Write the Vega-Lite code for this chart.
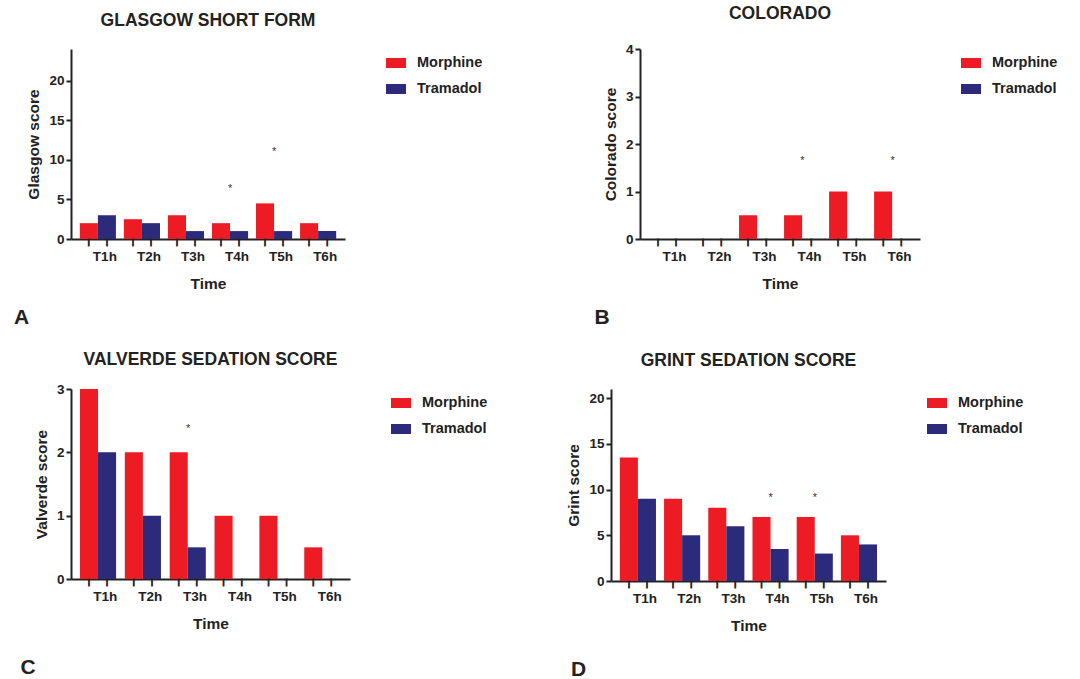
{
  "$schema": "https://vega.github.io/schema/vega-lite/v6.json",
  "padding": {"left": 13, "top": 4, "right": 5, "bottom": 0},
  "background": "white",
  "datasets": {
    "glasgow": [
      {"time": "T1h", "drug": "Morphine", "score": 2}, {"time": "T1h", "drug": "Tramadol", "score": 3},
      {"time": "T2h", "drug": "Morphine", "score": 2.5}, {"time": "T2h", "drug": "Tramadol", "score": 2},
      {"time": "T3h", "drug": "Morphine", "score": 3}, {"time": "T3h", "drug": "Tramadol", "score": 1},
      {"time": "T4h", "drug": "Morphine", "score": 2}, {"time": "T4h", "drug": "Tramadol", "score": 1},
      {"time": "T5h", "drug": "Morphine", "score": 4.5}, {"time": "T5h", "drug": "Tramadol", "score": 1},
      {"time": "T6h", "drug": "Morphine", "score": 2}, {"time": "T6h", "drug": "Tramadol", "score": 1}
    ],
    "glasgow_sig": [{"time": "T4h", "y": 6.6}, {"time": "T5h", "y": 11.2}],
    "colorado": [
      {"time": "T1h", "drug": "Morphine", "score": 0}, {"time": "T1h", "drug": "Tramadol", "score": 0},
      {"time": "T2h", "drug": "Morphine", "score": 0}, {"time": "T2h", "drug": "Tramadol", "score": 0},
      {"time": "T3h", "drug": "Morphine", "score": 0.5}, {"time": "T3h", "drug": "Tramadol", "score": 0},
      {"time": "T4h", "drug": "Morphine", "score": 0.5}, {"time": "T4h", "drug": "Tramadol", "score": 0},
      {"time": "T5h", "drug": "Morphine", "score": 1}, {"time": "T5h", "drug": "Tramadol", "score": 0},
      {"time": "T6h", "drug": "Morphine", "score": 1}, {"time": "T6h", "drug": "Tramadol", "score": 0}
    ],
    "colorado_sig": [{"time": "T4h", "y": 1.69}, {"time": "T6h", "y": 1.69}],
    "valverde": [
      {"time": "T1h", "drug": "Morphine", "score": 3}, {"time": "T1h", "drug": "Tramadol", "score": 2},
      {"time": "T2h", "drug": "Morphine", "score": 2}, {"time": "T2h", "drug": "Tramadol", "score": 1},
      {"time": "T3h", "drug": "Morphine", "score": 2}, {"time": "T3h", "drug": "Tramadol", "score": 0.5},
      {"time": "T4h", "drug": "Morphine", "score": 1}, {"time": "T4h", "drug": "Tramadol", "score": 0},
      {"time": "T5h", "drug": "Morphine", "score": 1}, {"time": "T5h", "drug": "Tramadol", "score": 0},
      {"time": "T6h", "drug": "Morphine", "score": 0.5}, {"time": "T6h", "drug": "Tramadol", "score": 0}
    ],
    "valverde_sig": [{"time": "T3h", "y": 2.4}],
    "grint": [
      {"time": "T1h", "drug": "Morphine", "score": 13.5}, {"time": "T1h", "drug": "Tramadol", "score": 9},
      {"time": "T2h", "drug": "Morphine", "score": 9}, {"time": "T2h", "drug": "Tramadol", "score": 5},
      {"time": "T3h", "drug": "Morphine", "score": 8}, {"time": "T3h", "drug": "Tramadol", "score": 6},
      {"time": "T4h", "drug": "Morphine", "score": 7}, {"time": "T4h", "drug": "Tramadol", "score": 3.5},
      {"time": "T5h", "drug": "Morphine", "score": 7}, {"time": "T5h", "drug": "Tramadol", "score": 3},
      {"time": "T6h", "drug": "Morphine", "score": 5}, {"time": "T6h", "drug": "Tramadol", "score": 4}
    ],
    "grint_sig": [{"time": "T4h", "y": 9.3}, {"time": "T5h", "y": 9.3}]
  },
  "resolve": {"scale": {"color": "independent"}, "legend": {"color": "independent"}},
  "spacing": 22,
  "vconcat": [
    {
      "hconcat": [
        {
          "title": {"text": "A", "orient": "bottom", "anchor": "start", "frame": "bounds", "fontSize": 21, "dx": -13, "offset": 15},
          "resolve": {"scale": {"color": "independent"}, "legend": {"color": "independent"}},
          "vconcat": [
            {
              "title": {"text": "GLASGOW SHORT FORM"},
              "width": 274, "height": 190,
              "layer": [
                {
                  "data": {"name": "glasgow"},
                  "mark": {"type": "bar"},
                  "encoding": {
                    "x": {"field": "time", "type": "nominal", "title": "Time", "scale": {"paddingInner": 0.18, "paddingOuter": 0.2}},
                    "xOffset": {"field": "drug", "type": "nominal", "scale": {"paddingInner": 0, "paddingOuter": 0}},
                    "y": {"field": "score", "type": "quantitative", "title": "Glasgow score", "scale": {"domain": [0, 24], "nice": false}, "axis": {"values": [0, 5, 10, 15, 20], "format": "d"}},
                    "color": {"field": "drug", "type": "nominal", "scale": {"domain": ["Morphine", "Tramadol"], "range": ["#ED1C24", "#2B2A7B"]}, "legend": {"title": null}}
                  }
                },
                {
                  "data": {"name": "glasgow"},
                  "mark": {"type": "text", "text": "|", "fontSize": 7, "fontWeight": "bold", "baseline": "top", "dy": -1, "color": "#222222", "stroke": "#222222", "strokeWidth": 0.8},
                  "encoding": {
                    "x": {"field": "time", "type": "nominal", "title": "Time"},
                    "xOffset": {"field": "drug", "type": "nominal"},
                    "y": {"datum": 0, "title": "Glasgow score"}
                  }
                },
                {
                  "data": {"name": "glasgow_sig"},
                  "mark": {"type": "text", "text": "*", "fontSize": 11, "color": "#333333", "baseline": "middle", "dy": 2},
                  "encoding": {
                    "x": {"field": "time", "type": "nominal", "title": "Time"},
                    "y": {"field": "y", "type": "quantitative", "title": "Glasgow score"}
                  }
                }
              ]
            }
          ]
        },
        {
          "title": {"text": "B", "orient": "bottom", "anchor": "start", "frame": "bounds", "fontSize": 21, "dx": -9, "offset": 15},
          "resolve": {"scale": {"color": "independent"}, "legend": {"color": "independent"}},
          "vconcat": [
            {
              "title": {"text": "COLORADO"},
              "width": 280, "height": 190,
              "layer": [
                {
                  "data": {"name": "colorado"},
                  "mark": {"type": "bar"},
                  "encoding": {
                    "x": {"field": "time", "type": "nominal", "title": "Time", "scale": {"paddingInner": 0.18, "paddingOuter": 0.2}},
                    "xOffset": {"field": "drug", "type": "nominal", "scale": {"paddingInner": 0, "paddingOuter": 0}},
                    "y": {"field": "score", "type": "quantitative", "title": "Colorado score", "scale": {"domain": [0, 4], "nice": false}, "axis": {"values": [0, 1, 2, 3, 4], "format": "d"}},
                    "color": {"field": "drug", "type": "nominal", "scale": {"domain": ["Morphine", "Tramadol"], "range": ["#ED1C24", "#2B2A7B"]}, "legend": {"title": null}}
                  }
                },
                {
                  "data": {"name": "colorado"},
                  "mark": {"type": "text", "text": "|", "fontSize": 7, "fontWeight": "bold", "baseline": "top", "dy": -1, "color": "#222222", "stroke": "#222222", "strokeWidth": 0.8},
                  "encoding": {
                    "x": {"field": "time", "type": "nominal", "title": "Time"},
                    "xOffset": {"field": "drug", "type": "nominal"},
                    "y": {"datum": 0, "title": "Colorado score"}
                  }
                },
                {
                  "data": {"name": "colorado_sig"},
                  "mark": {"type": "text", "text": "*", "fontSize": 11, "color": "#333333", "baseline": "middle", "dy": 2},
                  "encoding": {
                    "x": {"field": "time", "type": "nominal", "title": "Time"},
                    "y": {"field": "y", "type": "quantitative", "title": "Colorado score"}
                  }
                }
              ]
            }
          ]
        }
      ],
      "align": "none",
      "spacing": 107,
      "resolve": {"scale": {"color": "independent"}, "legend": {"color": "independent"}}
    },
    {
      "hconcat": [
        {
          "title": {"text": "C", "orient": "bottom", "anchor": "start", "frame": "bounds", "fontSize": 21, "dx": -14, "offset": 25},
          "resolve": {"scale": {"color": "independent"}, "legend": {"color": "independent"}},
          "vconcat": [
            {
              "title": {"text": "VALVERDE SEDATION SCORE", "offset": 14},
              "width": 279, "height": 190,
              "layer": [
                {
                  "data": {"name": "valverde"},
                  "mark": {"type": "bar"},
                  "encoding": {
                    "x": {"field": "time", "type": "nominal", "title": "Time", "scale": {"paddingInner": 0.18, "paddingOuter": 0.2}},
                    "xOffset": {"field": "drug", "type": "nominal", "scale": {"paddingInner": 0, "paddingOuter": 0}},
                    "y": {"field": "score", "type": "quantitative", "title": "Valverde score", "scale": {"domain": [0, 3], "nice": false}, "axis": {"values": [0, 1, 2, 3], "format": "d"}},
                    "color": {"field": "drug", "type": "nominal", "scale": {"domain": ["Morphine", "Tramadol"], "range": ["#ED1C24", "#2B2A7B"]}, "legend": {"title": null}}
                  }
                },
                {
                  "data": {"name": "valverde"},
                  "mark": {"type": "text", "text": "|", "fontSize": 7, "fontWeight": "bold", "baseline": "top", "dy": -1, "color": "#222222", "stroke": "#222222", "strokeWidth": 0.8},
                  "encoding": {
                    "x": {"field": "time", "type": "nominal", "title": "Time"},
                    "xOffset": {"field": "drug", "type": "nominal"},
                    "y": {"datum": 0, "title": "Valverde score"}
                  }
                },
                {
                  "data": {"name": "valverde_sig"},
                  "mark": {"type": "text", "text": "*", "fontSize": 11, "color": "#333333", "baseline": "middle", "dy": 2},
                  "encoding": {
                    "x": {"field": "time", "type": "nominal", "title": "Time"},
                    "y": {"field": "y", "type": "quantitative", "title": "Valverde score"}
                  }
                }
              ]
            }
          ]
        },
        {
          "title": {"text": "D", "orient": "bottom", "anchor": "start", "frame": "bounds", "fontSize": 21, "dx": 4, "offset": 25},
          "resolve": {"scale": {"color": "independent"}, "legend": {"color": "independent"}},
          "vconcat": [
            {
              "title": {"text": "GRINT SEDATION SCORE"},
              "width": 275, "height": 192,
              "layer": [
                {
                  "data": {"name": "grint"},
                  "mark": {"type": "bar"},
                  "encoding": {
                    "x": {"field": "time", "type": "nominal", "title": "Time", "scale": {"paddingInner": 0.18, "paddingOuter": 0.2}},
                    "xOffset": {"field": "drug", "type": "nominal", "scale": {"paddingInner": 0, "paddingOuter": 0}},
                    "y": {"field": "score", "type": "quantitative", "title": "Grint score", "scale": {"domain": [0, 21], "nice": false}, "axis": {"values": [0, 5, 10, 15, 20], "format": "d"}},
                    "color": {"field": "drug", "type": "nominal", "scale": {"domain": ["Morphine", "Tramadol"], "range": ["#ED1C24", "#2B2A7B"]}, "legend": {"title": null}}
                  }
                },
                {
                  "data": {"name": "grint"},
                  "mark": {"type": "text", "text": "|", "fontSize": 7, "fontWeight": "bold", "baseline": "top", "dy": -1, "color": "#222222", "stroke": "#222222", "strokeWidth": 0.8},
                  "encoding": {
                    "x": {"field": "time", "type": "nominal", "title": "Time"},
                    "xOffset": {"field": "drug", "type": "nominal"},
                    "y": {"datum": 0, "title": "Grint score"}
                  }
                },
                {
                  "data": {"name": "grint_sig"},
                  "mark": {"type": "text", "text": "*", "fontSize": 11, "color": "#333333", "baseline": "middle", "dy": 2},
                  "encoding": {
                    "x": {"field": "time", "type": "nominal", "title": "Time"},
                    "y": {"field": "y", "type": "quantitative", "title": "Grint score"}
                  }
                }
              ]
            }
          ]
        }
      ],
      "align": "none",
      "spacing": 74,
      "resolve": {"scale": {"color": "independent"}, "legend": {"color": "independent"}}
    }
  ],
  "config": {
    "font": "Liberation Sans",
    "view": {"stroke": null},
    "title": {"fontSize": 17.5, "fontWeight": "bold", "color": "#222222", "offset": 20},
    "axis": {"grid": false, "domainColor": "#222222", "domainWidth": 2, "tickColor": "#222222", "tickWidth": 2, "tickSize": 5, "labelFontSize": 13.5, "labelFontWeight": "bold", "labelColor": "#222222", "titleFontSize": 15.5, "titleFontWeight": "bold", "titleColor": "#222222"},
    "axisX": {"ticks": false, "labelAngle": 0, "labelPadding": 10, "labelOffset": 7, "titlePadding": 14},
    "axisY": {"labelPadding": 2, "titlePadding": 7},
    "legend": {"orient": "right", "offset": 37, "padding": 4, "symbolType": "M-1,-0.5H1V0.5H-1Z", "symbolSize": 400, "symbolStrokeWidth": 0, "labelFontSize": 14.5, "labelFontWeight": "bold", "labelColor": "#222222", "labelOffset": 11, "rowPadding": 9}
  }
}
